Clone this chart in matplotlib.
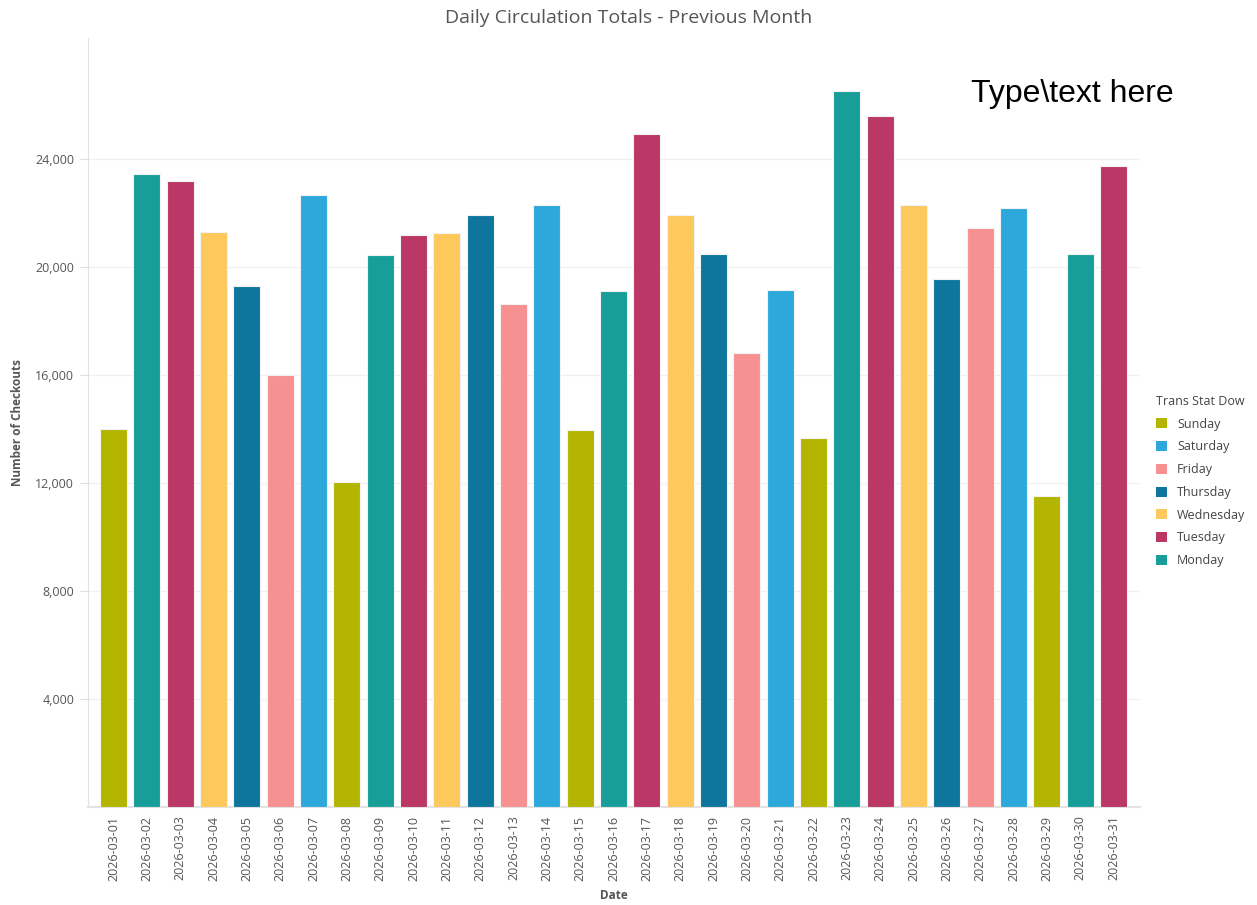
import matplotlib.pyplot as plt
from matplotlib.patches import Patch

dates = [f"2026-03-{d:02d}" for d in range(1, 32)]
checkouts = [14000, 23480, 23190, 21300, 19330, 16000, 22700, 12040, 20450, 21190,
             21260, 21960, 18630, 22330, 13960, 19110, 24930, 21930, 20480, 16820,
             19150, 13670, 26520, 25600, 22300, 19560, 21450, 22190, 11520, 20480,
             23740]
days = ["Sunday", "Monday", "Tuesday", "Wednesday", "Thursday", "Friday", "Saturday"]
dow = [days[i % 7] for i in range(31)]

legend_order = ["Sunday", "Saturday", "Friday", "Thursday", "Wednesday", "Tuesday", "Monday"]
colores = {
    "Sunday": "#b3b500",
    "Saturday": "#2ea8db",
    "Friday": "#f69091",
    "Thursday": "#0e769c",
    "Wednesday": "#fdc85c",
    "Tuesday": "#bb3766",
    "Monday": "#179e98",
}
yticks = [4000, 8000, 12000, 16000, 20000, 24000]

plt.rcParams["font.family"] = ["Open Sans", "DejaVu Sans"]

fig = plt.figure(figsize=(12.57, 9.05), dpi=100)
ax = fig.add_axes([0.070, 0.108, 0.837, 0.850])

x = list(range(len(dates)))
ax.bar(x, checkouts, width=0.81, color=[colores[d] for d in dow],
       edgecolor="#f2f2f2", linewidth=0.8, zorder=3)

ax.set_xlim(-0.77, 30.8)
ax.set_ylim(0, 28500)
ax.set_xticks(x)
ax.set_xticklabels(dates, rotation=90, fontsize=9, color="#555555")
ax.set_yticks(yticks)
ax.set_yticklabels([f"{v:,}" for v in yticks], fontsize=9, color="#555555")
ax.tick_params(axis="x", length=0, pad=6)
ax.tick_params(axis="y", length=6, color="#dddddd", pad=4)
ax.grid(axis="y", color="#f0f0f0", linewidth=1, zorder=0)

for s in ["top", "right"]:
    ax.spines[s].set_visible(False)
ax.spines["left"].set_color("#e2e2e2")
ax.spines["bottom"].set_color("#e2e2e2")
ax.spines["bottom"].set_linewidth(1.5)

ax.set_xlabel("Date", fontsize=8.5, fontweight="bold", color="#555555", labelpad=6)
ax.set_ylabel("Number of Checkouts", fontsize=8.5, fontweight="bold", color="#555555", labelpad=8)

fig.text(0.5, 0.980, "Daily Circulation Totals - Previous Month", ha="center", va="center",
         fontsize=14, color="#555555")
fig.text(0.853, 0.896, "Type\\text here", ha="center", va="center",
         fontsize=23, color="black", family=["Liberation Sans", "DejaVu Sans"])

handles = [Patch(facecolor=colores[d], edgecolor="none", label=d) for d in legend_order]
leg = fig.legend(handles=handles, loc="upper left", bbox_to_anchor=(0.911, 0.576),
                 frameon=False, title="Trans Stat Dow", fontsize=9, title_fontsize=9,
                 handlelength=0.85, handleheight=0.85, handletextpad=0.8, labelspacing=0.78,
                 alignment="left")
for t in leg.get_texts():
    t.set_color("#444444")
leg.get_title().set_color("#444444")

plt.savefig("out.png", dpi=100)
plt.close()
